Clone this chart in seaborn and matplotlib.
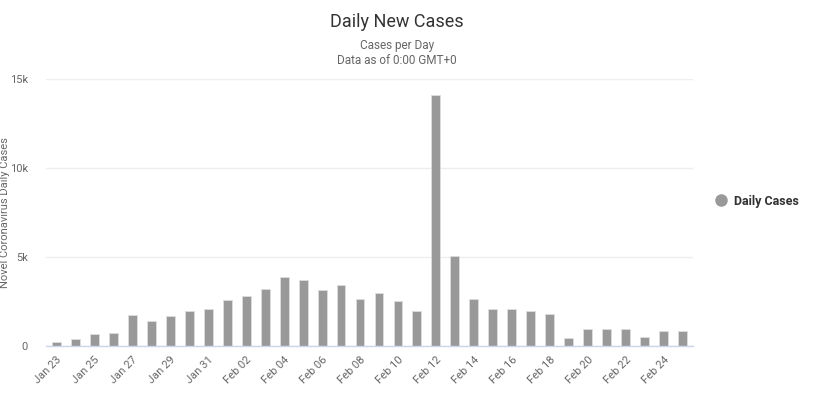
import pandas as pd
import matplotlib.pyplot as plt
import seaborn as sns
from matplotlib.lines import Line2D

# daily new cases
dates = ["Jan 23", "Jan 24", "Jan 25", "Jan 26", "Jan 27", "Jan 28", "Jan 29",
         "Jan 30", "Jan 31", "Feb 01", "Feb 02", "Feb 03", "Feb 04", "Feb 05",
         "Feb 06", "Feb 07", "Feb 08", "Feb 09", "Feb 10", "Feb 11", "Feb 12",
         "Feb 13", "Feb 14", "Feb 15", "Feb 16", "Feb 17", "Feb 18", "Feb 19",
         "Feb 20", "Feb 21", "Feb 22", "Feb 23", "Feb 24", "Feb 25"]
cases = [240, 420, 690, 750, 1740, 1400, 1690, 1970, 2080, 2580, 2810, 3180,
         3860, 3690, 3130, 3410, 2640, 2960, 2530, 1970, 14080, 5070, 2620,
         2080, 2080, 1970, 1800, 470, 970, 970, 970, 520, 840, 840]
yticks = [0, 5000, 10000, 15000]
ytick_labels = ["0", "5k", "10k", "15k"]

df = pd.DataFrame({"date": dates, "cases": cases})

sns.set_style("white")
plt.rcParams["font.family"] = ["Roboto", "DejaVu Sans"]

fig = plt.figure(figsize=(8.15, 3.99), dpi=100)
ax = fig.add_axes([46 / 815, 1 - 346 / 399, (693 - 46) / 815, (346 - 79) / 399])

sns.barplot(data=df, x="date", y="cases", color="#999999", saturation=1,
            width=0.47, edgecolor="#dddddd", linewidth=0.6, ax=ax)

ax.set_xlim(-0.55, len(dates) - 0.45)
ax.set_ylim(0, 15000)
ax.set_yticks(yticks)
ax.set_yticklabels(ytick_labels)
ax.yaxis.grid(True, color="#eeeeee", linewidth=1)
ax.set_axisbelow(True)
for side in ["top", "right", "left"]:
    ax.spines[side].set_visible(False)
ax.spines["bottom"].set_color("#ccd6eb")
ax.spines["bottom"].set_linewidth(1)

ax.set_xticks(range(0, len(dates), 2))
ax.set_xticklabels(dates[::2], rotation=45, ha="right", rotation_mode="anchor")
ax.tick_params(axis="x", length=0, pad=6, labelsize=8, labelcolor="#666666")
ax.tick_params(axis="y", length=0, pad=13, labelsize=8, labelcolor="#666666")

# y label hugs the left edge, kept fully inside the figure
ax.set_xlabel("")
ax.set_ylabel("Novel Coronavirus Daily Cases", color="#666666", fontsize=8)
ax.yaxis.set_label_coords(-0.055, 0.5)

cx = 397 / 815
fig.text(cx, 1 - 22 / 399, "Daily New Cases", ha="center", va="center",
         fontsize=13, color="#333333")
fig.text(cx, 1 - 45 / 399, "Cases per Day", ha="center", va="center",
         fontsize=8.5, color="#666666")
fig.text(cx, 1 - 60 / 399, "Data as of 0:00 GMT+0", ha="center", va="center",
         fontsize=8.5, color="#666666")

handle = Line2D([], [], marker="o", linestyle="none", markersize=8,
                markerfacecolor="#999999", markeredgecolor="#999999")
leg = fig.legend([handle], ["Daily Cases"], loc="center left",
                 bbox_to_anchor=(697 / 815, 1 - 201 / 399), frameon=False,
                 handletextpad=0.1, prop={"weight": "bold", "size": 9})
for t in leg.get_texts():
    t.set_color("#333333")

plt.savefig("out.png", dpi=100)
